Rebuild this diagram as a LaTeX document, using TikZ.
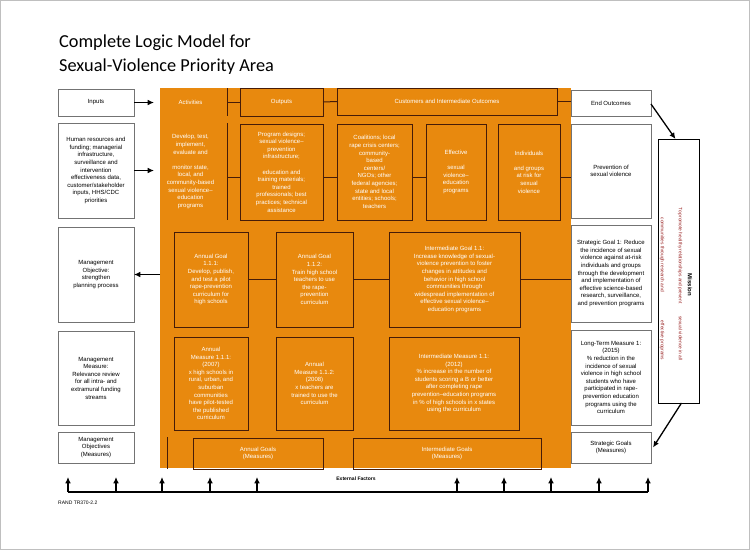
\documentclass[tikz,border=0pt]{standalone}
\usepackage{fontspec}
\setmainfont{Liberation Sans}
\newfontfamily\titlefont{Carlito}
\usetikzlibrary{arrows.meta, positioning}
\definecolor{panelorange}{RGB}{232,137,14}
\definecolor{boxline}{RGB}{70,28,8}
\definecolor{missionred}{RGB}{150,30,30}
\newcommand{\boxfont}{\fontsize{6}{7.6}\selectfont}
\tikzset{
  sidebox/.style={rectangle, draw=black!55, fill=white, line width=0.8pt,
    anchor=north west, align=center, inner sep=1pt, outer sep=0pt, font=\boxfont},
  leftbox/.style={sidebox, minimum width=76pt},
  rightbox/.style={sidebox, minimum width=80pt},
  orangebox/.style={rectangle, draw=boxline, line width=1pt, anchor=north west,
    align=center, inner sep=1pt, outer sep=0pt, font=\boxfont, text=white},
  plainbox/.style={orangebox, draw=none},
  stub/.style={draw=boxline, line width=1pt},
  arrowline/.style={-{Latex[length=2.2mm, width=2mm]}, line width=1.3pt},
  missiontext/.style={rotate=-90, font=\fontsize{4.8}{5}\selectfont, text=missionred, inner sep=0pt}
}

\begin{document}
\begin{tikzpicture}[x=1pt, y=-1pt]
  \useasboundingbox (0,0) rectangle (750,550);
  \draw[black!25] (0.5,0.5) rectangle (749.5,549.5);

  % title
  \node[anchor=west, font=\titlefont\fontsize{18.3}{20}\selectfont, inner sep=0pt] (title1) at (59,43) {Complete Logic Model for};
  \node[anchor=west, font=\titlefont\fontsize{18.3}{20}\selectfont, inner sep=0pt] (title2) at (59,67) {Sexual-Violence Priority Area};

  % orange panel
  \node[rectangle, fill=panelorange, anchor=north west, minimum width=411pt, minimum height=380pt, inner sep=0pt, outer sep=0pt] (panel) at (160,88) {};

  % left column
  \node[leftbox, minimum height=27pt] (inputs) at (58,89) {Inputs};
  \node[leftbox, minimum height=95pt] (hr) at (58,123) {Human resources and\\ funding; managerial\\ infrastructure,\\ surveillance and\\ intervention\\ effectiveness data,\\ customer/stakeholder\\ inputs, HHS/CDC\\ priorities};
  \node[leftbox, minimum height=95pt] (mobj) at (58,227) {Management\\ Objective:\\ strengthen\\ planning process};
  \node[leftbox, minimum height=94pt] (mmeas) at (58,331) {Management\\ Measure:\\ Relevance review\\ for all intra- and\\ extramural funding\\ streams};
  \node[leftbox, minimum height=31pt] (mobjm) at (58,432) {Management\\ Objectives\\ (Measures)};

  % right column
  \node[rightbox, minimum height=26pt] (endout) at (571,90) {End Outcomes};
  \node[rightbox, minimum height=94pt] (prev) at (571,124) {Prevention of\\ sexual violence};
  \node[rightbox, minimum height=97pt] (sg) at (571,225) {Strategic Goal 1: Reduce\\ the incidence of sexual\\ violence against at-risk\\ individuals and groups\\ through the development\\ and implementation of\\ effective science-based\\ research, surveillance,\\ and prevention programs};
  \node[rightbox, minimum height=95pt] (ltm) at (571,330) {Long-Term Measure 1:\\ (2015)\\ \% reduction in the\\ incidence of sexual\\ violence in high school\\ students who have\\ participated in rape-\\ prevention education\\ programs using the\\ curriculum};
  \node[rightbox, minimum height=31pt] (sgm) at (571,432) {Strategic Goals\\ (Measures)};

  % headers
  \node[plainbox, minimum width=73pt, minimum height=28pt] (act1) at (154,88) {Activities};
  \node[orangebox, minimum width=83pt, minimum height=28pt] (outputs) at (240,88) {Outputs};
  \node[orangebox, minimum width=220pt, minimum height=27pt] (cust) at (337,88) {Customers and Intermediate Outcomes};

  % activities, outputs, customers
  \node[plainbox, minimum width=73pt, minimum height=97pt] (act2) at (154,123) {Develop, test,\\ implement,\\ evaluate and\\[7.6pt] monitor state,\\ local, and\\ community-based\\ sexual violence–\\ education\\ programs};
  \node[orangebox, minimum width=83pt, minimum height=96pt] (out2) at (240,124) {Program designs;\\ sexual violence–\\ prevention\\ infrastructure;\\[7.6pt] education and\\ training materials;\\ trained\\ professionals; best\\ practices; technical\\ assistance};
  \node[orangebox, minimum width=75pt, minimum height=96pt] (coal) at (337,124) {Coalitions; local\\ rape crisis centers;\\ community-\\ based\\ centers/\\ NGOs; other\\ federal agencies;\\ state and local\\ entities; schools;\\ teachers};
  \node[orangebox, minimum width=60pt, minimum height=96pt] (eff) at (426,124) {Effective\\[7.6pt] sexual\\ violence–\\ education\\ programs};
  \node[orangebox, minimum width=62pt, minimum height=96pt] (ind) at (498,124) {Individuals\\[7.6pt] and groups\\ at risk for\\ sexual\\ violence};

  % goals
  \node[orangebox, minimum width=74pt, minimum height=95pt] (ag1) at (174,232) {Annual Goal\\ 1.1.1:\\ Develop, publish,\\ and test a pilot\\ rape-prevention\\ curriculum for\\ high schools};
  \node[orangebox, minimum width=77pt, minimum height=95pt] (ag2) at (276,232) {Annual Goal\\ 1.1.2:\\ Train high school\\ teachers to use\\ the rape-\\ prevention\\ curriculum};
  \node[orangebox, minimum width=131pt, minimum height=95pt] (ig) at (389,232) {Intermediate Goal 1.1:\\ Increase knowledge of sexual-\\ violence prevention to foster\\ changes in attitudes and\\ behavior in high school\\ communities through\\ widespread implementation of\\ effective sexual violence–\\ education programs};

  % measures
  \node[orangebox, minimum width=74pt, minimum height=93pt] (am1) at (174,337) {Annual\\ Measure 1.1.1:\\ (2007)\\ x high schools in\\ rural, urban, and\\ suburban\\ communities\\ have pilot-tested\\ the published\\ curriculum};
  \node[orangebox, minimum width=77pt, minimum height=93pt] (am2) at (276,337) {Annual\\ Measure 1.1.2:\\ (2008)\\ x teachers are\\ trained to use the\\ curriculum};
  \node[orangebox, minimum width=130pt, minimum height=93pt] (im) at (389,337) {Intermediate Measure 1.1:\\ (2012)\\ \% increase in the number of\\ students scoring a B or better\\ after completing rape\\ prevention–education programs\\ in \% of high schools in x states\\ using the curriculum};

  % goals (measures)
  \node[orangebox, minimum width=130pt, minimum height=31pt] (agm) at (193,438) {Annual Goals\\ (Measures)};
  \node[orangebox, minimum width=188pt, minimum height=31pt] (igm) at (353,438) {Intermediate Goals\\ (Measures)};
  \draw[stub] (167,437) -- (167,469);

  % mission
  \node[rectangle, draw=black, line width=0.8pt, anchor=north west, minimum width=41pt, minimum height=264pt, inner sep=0pt, outer sep=0pt] (mission) at (658,139) {};
  \node[rotate=-90, font=\fontsize{6}{7}\selectfont\bfseries, inner sep=0pt] (missionlbl) at (690,285) {Mission};
  \node[missiontext] (mline1) at (680,284) {To promote healthy relationships and prevent\hspace{13pt}sexual violence in all};
  \node[missiontext] (mline2) at (662,289) {communities through research and\hspace{29pt}effective programs};

  % connectors inside the panel
  \draw[stub] (act1.north east) -- (act1.south east);
  \draw[stub] (act2.north east) -- (act2.south east);
  \draw[stub] (act1.east) -- (outputs.west);
  \draw[stub] (outputs.east) -- (cust.west);
  \draw[stub] (cust.east) -- (cust.east -| endout.west);
  \draw[stub] (act2.east |- 0,177) -- (out2.west |- 0,177);
  \draw[stub] (out2.east |- 0,177) -- (coal.west |- 0,177);
  \draw[stub] (coal.east |- 0,177) -- (eff.west |- 0,177);
  \draw[stub] (ind.east |- 0,177) -- (prev.west |- 0,177);
  \draw[stub] (ag1) -- (ag2);
  \draw[stub] (ag2) -- (ig);
  \draw[stub] (ig.east) -- (ig.east -| sg.west);

  % arrows
  \draw[arrowline] (inputs.east) -- ([xshift=-6pt]inputs.east -| panel.west);
  \draw[arrowline] (hr.east) -- ([xshift=-6pt]hr.east -| panel.west);
  \draw[arrowline] (panel.west |- mobj.east) -- (mobj.east);
  \draw[arrowline] ([yshift=-1pt]endout.east) -- ([xshift=-3pt]mission.north);
  \draw[arrowline] ([xshift=3pt]mission.south) -- ([xshift=2pt]sgm.east);

  % external factors
  \node[font=\fontsize{5}{6}\selectfont\bfseries, inner sep=0pt] (extf) at (356,479) {External Factors};
  \coordinate (efL) at (68,492);
  \coordinate (efR) at (648,492);
  \draw[line width=1.3pt] (efL) -- (efR);
  \foreach \x in {68,116,162,210,257,457,504,551,599,648}
    \draw[arrowline] (\x,492) -- (\x,477);
  \node[anchor=west, font=\fontsize{5}{6}\selectfont, inner sep=0pt] (rand) at (58,503) {RAND TR370-2.2};
\end{tikzpicture}
\end{document}
